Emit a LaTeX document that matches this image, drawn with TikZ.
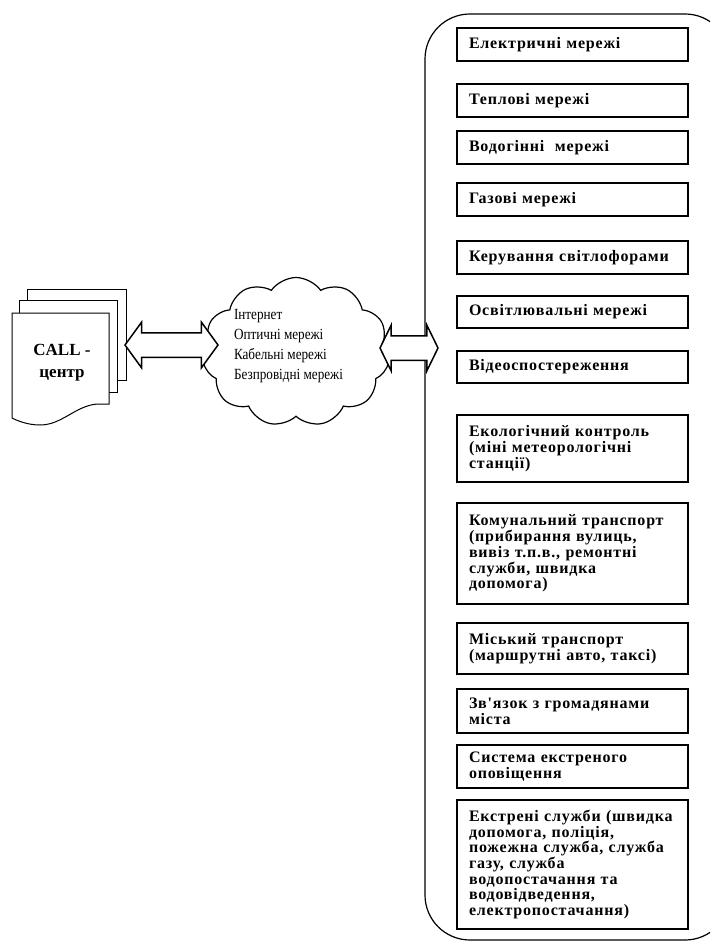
\documentclass[tikz,border=0pt]{standalone}
\usepackage{fontspec}
\setmainfont{Liberation Serif}
\newfontfamily\boxfont[LetterSpace=5]{Liberation Serif}
\newfontfamily\netfont[FakeStretch=0.85]{Liberation Serif}
\usetikzlibrary{shapes.symbols,shapes.arrows}

\begin{document}
\begin{tikzpicture}[x=1pt, y=-1pt,
  every node/.style={inner sep=0pt},
  item/.style={draw, line width=1.2pt, rectangle, minimum width=231pt, inner xsep=12pt,
    text width=207pt, align=left, font=\boxfont\bfseries\fontsize{16}{15.7}\selectfont},
  page/.style={draw, line width=1pt, fill=white},
  dblarrow/.style={double arrow, draw, line width=1.5pt, fill=white, inner xsep=0pt,
    inner ysep=11.5pt, double arrow head extend=10.5pt}]
  \clip (0,0) rectangle (710,941);

  % Call centre
  \draw[page] (27,289) rectangle (126,380);
  \draw[page] (19,300) rectangle (117,392);
  \draw[page] (12,313) -- (109,313) -- (109,404) -- (97,404)
    .. controls (75,406) and (62,425) .. (40,425)
    .. controls (28,425) and (18,421) .. (12,418) -- cycle;
  \node[align=center, font=\bfseries\fontsize{17}{22}\selectfont] (cc) at (62,363) {CALL -\\центр};

  % Networks
  \node[cloud, draw, line width=1.2pt, cloud puffs=11, cloud puff arc=110, aspect=1.3,
    minimum width=187pt, minimum height=149pt] (net) at (296,352) {};
  \node[align=left, font=\netfont\fontsize{15.5}{20}\selectfont] (nettext) at (288.5,346)
    {Інтернет\\Оптичні мережі\\Кабельні мережі\\Безпровідні мережі};

  % City services
  \node[draw, line width=1.2pt, rounded corners=45pt, minimum width=305pt,
    minimum height=926pt] (zone) at (577.5,477) {};

  \node[item, minimum height=33pt] (b1) at (572.5,44.5) {Електричні мережі};
  \node[item, minimum height=33pt] (b2) at (572.5,100.5) {Теплові мережі};
  \node[item, minimum height=33pt] (b3) at (572.5,147.5) {Водогінні~ мережі};
  \node[item, minimum height=33pt] (b4) at (572.5,199.5) {Газові мережі};
  \node[item, minimum height=33pt] (b5) at (572.5,257.5) {Керування світлофорами};
  \node[item, minimum height=32pt] (b6) at (572.5,312) {Освітлювальні мережі};
  \node[item, minimum height=32pt] (b7) at (572.5,367) {Відеоспостереження};
  \node[item, minimum height=67pt] (b8) at (572.5,448.5)
    {Екологічний контроль\\(міні метеорологічні\\станції)};
  \node[item, minimum height=101pt] (b9) at (572.5,553.5)
    {Комунальний транспорт\\(прибирання вулиць,\\вивіз т.п.в., ремонтні\\служби, швидка\\допомога)};
  \node[item, minimum height=51pt] (b10) at (572.5,648.5)
    {Міський транспорт\\(маршрутні авто, таксі)};
  \node[item, minimum height=44pt] (b11) at (572.5,711) {Зв'язок з громадянами\\міста};
  \node[item, minimum height=43pt] (b12) at (572.5,766.5) {Система екстреного\\оповіщення};
  \node[item, minimum height=129pt] (b13) at (572.5,864.5)
    {Екстрені служби (швидка\\допомога, поліція,\\пожежна служба, служба\\газу, служба\\водопостачання та\\водовідведення,\\електропостачання)};

  % Links
  \node[dblarrow, double arrow tip angle=108, minimum height=93pt] (l1) at (171.5,345) {};
  \node[dblarrow, double arrow tip angle=128, minimum height=58pt] (l2) at (409,348) {};
\end{tikzpicture}
\end{document}
